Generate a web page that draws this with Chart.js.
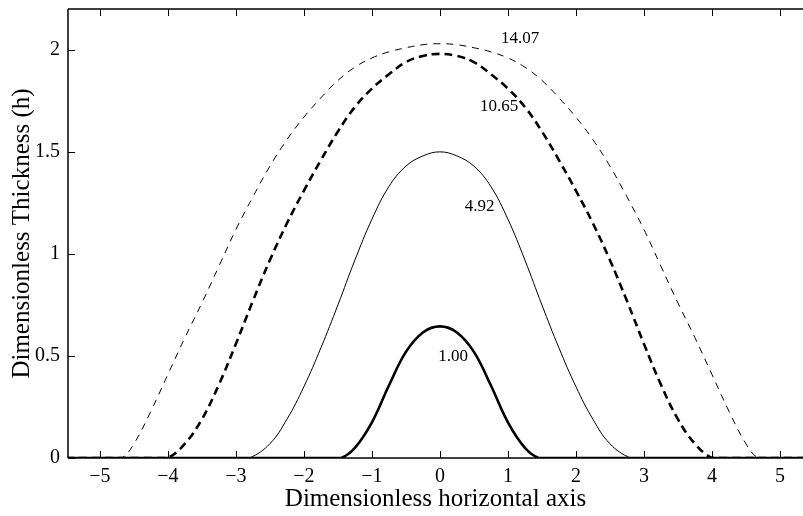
<!DOCTYPE html>
<html><head><meta charset="utf-8">
<script src="https://cdn.jsdelivr.net/npm/chart.js@4.4.0/dist/chart.umd.min.js"></script>
<style>html,body{margin:0;padding:0;background:#fff;overflow:hidden}#wrap{width:803px;height:516px}</style>
</head><body><div id="wrap"><canvas id="c" width="803" height="516"></canvas></div>
<script>
// ---- data ----
const xTicks = [-5, -4, -3, -2, -1, 0, 1, 2, 3, 4, 5];
const yTicks = [0, 0.5, 1, 1.5, 2];
const curveNames = ['1.00', '4.92', '10.65', '14.07'];

const xA = [-5.5, -1.6, -1.45, -1.25, -1.0, -0.75, -0.5, -0.25, 0, 0.25, 0.5, 0.75, 1.0, 1.25, 1.45, 1.6, 5.5];
const hA = [0, 0, 0, 0.05, 0.175, 0.355, 0.52, 0.615, 0.645, 0.615, 0.52, 0.355, 0.175, 0.05, 0, 0, 0];

const xB = [-5.5, -2.95, -2.8, -2.5, -2.25, -2.0, -1.75, -1.5, -1.25, -1.0, -0.75, -0.5, -0.25, 0, 0.25, 0.5, 0.75, 1.0, 1.25, 1.5, 1.75, 2.0, 2.25, 2.5, 2.8, 2.95, 5.5];
const hB = [0, 0, 0, 0.07, 0.19, 0.35, 0.54, 0.75, 0.97, 1.17, 1.33, 1.43, 1.48, 1.50, 1.48, 1.43, 1.33, 1.17, 0.97, 0.75, 0.54, 0.35, 0.19, 0.07, 0, 0, 0];

const xC = [-5.5, -4.15, -4.0, -3.75, -3.5, -3.25, -3.0, -2.75, -2.5, -2.25, -2.0, -1.75, -1.5, -1.25, -1.0, -0.75, -0.5, -0.25, 0, 0.25, 0.5, 0.75, 1.0, 1.25, 1.5, 1.75, 2.0, 2.25, 2.5, 2.75, 3.0, 3.25, 3.5, 3.75, 4.0, 4.15, 5.5];
const hC = [0, 0, 0, 0.07, 0.19, 0.36, 0.56, 0.77, 0.97, 1.15, 1.31, 1.46, 1.60, 1.72, 1.81, 1.88, 1.94, 1.97, 1.98, 1.97, 1.94, 1.88, 1.81, 1.72, 1.60, 1.46, 1.31, 1.15, 0.97, 0.77, 0.56, 0.36, 0.19, 0.07, 0, 0, 0];

const xD = [-5.5, -4.85, -4.68, -4.5, -4.25, -4.0, -3.75, -3.5, -3.25, -3.0, -2.75, -2.5, -2.25, -2.0, -1.75, -1.5, -1.25, -1.0, -0.75, -0.5, -0.25, 0, 0.25, 0.5, 0.75, 1.0, 1.25, 1.5, 1.75, 2.0, 2.25, 2.5, 2.75, 3.0, 3.25, 3.5, 3.75, 4.0, 4.25, 4.5, 4.68, 4.85, 5.5];
const hD = [0, 0, 0, 0.07, 0.23, 0.41, 0.59, 0.76, 0.94, 1.12, 1.28, 1.43, 1.56, 1.67, 1.765, 1.85, 1.915, 1.96, 1.99, 2.01, 2.025, 2.03, 2.025, 2.01, 1.99, 1.96, 1.915, 1.85, 1.765, 1.67, 1.56, 1.43, 1.28, 1.12, 0.94, 0.76, 0.59, 0.41, 0.23, 0.07, 0, 0, 0];

// label anchor positions (data coordinates) for the curve annotations
const labelX = [0.196, 0.583, 0.87, 1.18];
const labelH = [0.4975, 1.23, 1.72, 2.054];

const FONT = "'Liberation Serif', 'Times New Roman', serif";
const pts = (xs, hs) => xs.map((x, i) => ({x: x, y: hs[i]}));
const fmt = v => (v < 0 ? '\u2212' + Math.abs(v) : String(v));

const frame = {
  id: 'frame',
  afterDraw(chart) {
    const {ctx, chartArea: a, scales: {x, y}} = chart;
    ctx.save();
    ctx.strokeStyle = '#000';
    ctx.lineWidth = 1.5;
    ctx.beginPath();
    ctx.moveTo(a.left, a.top); ctx.lineTo(a.left, a.bottom);
    ctx.moveTo(a.left, a.bottom); ctx.lineTo(a.right, a.bottom);
    ctx.moveTo(a.left, a.top); ctx.lineTo(a.right, a.top);
    ctx.stroke();
    ctx.lineWidth = 1;
    ctx.beginPath();
    xTicks.forEach(v => {
      const px = Math.round(x.getPixelForValue(v)) + 0.5;
      ctx.moveTo(px, a.bottom); ctx.lineTo(px, a.bottom - 7);
      ctx.moveTo(px, a.top); ctx.lineTo(px, a.top + 7);
    });
    yTicks.forEach(v => {
      const py = Math.round(y.getPixelForValue(v)) + 0.5;
      ctx.moveTo(a.left, py); ctx.lineTo(a.left + 7, py);
    });
    ctx.stroke();
    ctx.fillStyle = '#000';
    ctx.font = '17px ' + FONT;
    ctx.textAlign = 'center';
    ctx.textBaseline = 'middle';
    curveNames.forEach((t, i) => {
      ctx.fillText(t, x.getPixelForValue(labelX[i]), y.getPixelForValue(labelH[i]));
    });
    ctx.restore();
  }
};

const ds = (label, data, w, dash) => ({
  label, data, showLine: true, borderColor: '#000', borderWidth: w, borderDash: dash,
  pointRadius: 0, fill: false, tension: 0.4
});

new Chart(document.getElementById('c'), {
  type: 'scatter',
  data: {
    datasets: [
      ds(curveNames[0], pts(xA, hA), 2.6, []),
      ds(curveNames[1], pts(xB, hB), 1, []),
      ds(curveNames[2], pts(xC, hC), 2.6, [8, 5]),
      ds(curveNames[3], pts(xD, hD), 1, [7, 6])
    ]
  },
  options: {
    responsive: false, animation: false, devicePixelRatio: 1,
    layout: {padding: {top: 9, right: 0, left: 0, bottom: 0}},
    plugins: {legend: {display: false}, tooltip: {enabled: false}},
    scales: {
      x: {
        type: 'linear', min: -5.47, max: 5.34,
        grid: {display: false, drawTicks: false}, border: {display: false},
        afterBuildTicks: s => { s.ticks = xTicks.map(v => ({value: v})); },
        afterFit: s => { s.height = 58; s.paddingLeft = 0; s.paddingRight = 0; },
        ticks: {font: {family: FONT, size: 20}, color: '#000', padding: 7, maxRotation: 0, autoSkip: false, callback: v => fmt(v)},
        title: {display: true, text: 'Dimensionless horizontal axis', color: '#000', font: {family: FONT, size: 25}, padding: {top: 0, bottom: 2}}
      },
      y: {
        type: 'linear', min: 0, max: 2.2,
        grid: {display: false, drawTicks: false}, border: {display: false},
        afterBuildTicks: s => { s.ticks = yTicks.map(v => ({value: v})); },
        afterFit: s => { s.width = 68; s.paddingTop = 0; s.paddingBottom = 0; },
        ticks: {font: {family: FONT, size: 20}, color: '#000', padding: 8, autoSkip: false, callback: v => fmt(v)},
        title: {display: true, text: 'Dimensionless Thickness (h)', color: '#000', font: {family: FONT, size: 25}, padding: {top: 7, bottom: 0}}
      }
    }
  },
  plugins: [frame]
});
</script></body></html>
